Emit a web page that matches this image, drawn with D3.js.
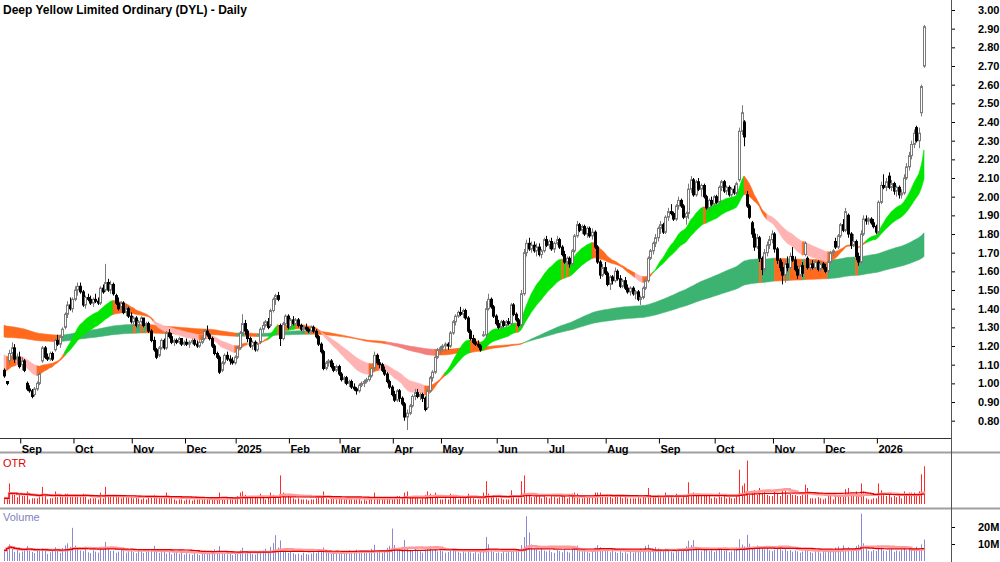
<!DOCTYPE html>
<html>
<head>
<meta charset="utf-8">
<script src="https://cdn.jsdelivr.net/npm/d3@7"></script>
<style>
  body { margin: 0; background: #fff; }
  svg { display: block; }
  text { font-family: "Liberation Sans", Arial, sans-serif; }
</style>
</head>
<body>
<svg id="chart" width="1000" height="562"></svg>
<script>
// daily prices in cents, 22 Aug 2024 .. 27 Jan 2026
const opens = [
  107,101,112,116,119,113,114,110,112,100, 97,96,94,97,100,112,119,114,113,116,
  118,123,121,125,130,137,142,140,145,150, 152,149,142,146,145,143,145,144,143,151,
  150,154,150,153,147,143,141,143,138,140, 136,133,135,131,133,135,131,132,128,123,
  118,115,119,123,119,127,125,122,123,122, 124,121,122,121,122,123,121,120,122,124,
  128,126,124,120,116,114,107,111,115,113, 112,111,114,119,127,132,128,124,120,122,
  118,122,129,131,133,131,139,145,147,131, 124,132,136,130,134,132,134,131,129,130,
  129,128,130,128,125,121,117,108,111,112, 109,107,109,105,102,103,100,101,98,97,
  96,99,100,101,102,104,108,115,111,110, 107,105,101,98,94,91,96,92,89,82,
  84,88,93,95,93,94,92,87,96,103, 106,114,118,119,120,121,120,127,133,136,
  138,137,139,135,128,124,122,121,120,126, 126,140,145,141,136,132,130,133,131,133,
  132,142,137,134,131,148,170,175,172,174, 171,173,169,171,177,174,176,172,175,177,
  173,169,165,167,164,171,179,185,182,184, 180,183,179,181,173,165,158,162,159,153,
  157,155,160,156,152,155,151,149,151,148, 149,145,146,151,155,167,171,175,178,183,
  185,181,189,192,191,188,195,198,195,189, 191,204,209,201,208,204,206,200,194,198,
  196,200,197,205,208,203,205,201,204,202, 209,235,240,201,195,186,180,173,178,167,
  161,170,174,177,180,172,166,162,158,164, 162,168,166,161,158,163,169,167,162,164,
  162,165,161,164,162,160,165,170,176,173, 179,185,182,190,180,174,176,168,165,180,
  188,187,188,186,184,181,197,206,205,211, 205,207,203,205,201,202,210,216,222,228,
  237,230,245,270
];
const highs = [
  108,101,118,122,121,116,117,114,113,101, 99,97,98,101,106,120,120,116,117,117,
  124,126,126,130,138,144,146,146,152,154, 154,150,147,148,147,146,148,146,152,153,
  164,156,155,154,148,146,144,144,142,141, 138,136,136,134,136,135,133,133,129,125,
  119,120,124,124,128,129,127,124,124,125, 124,123,124,123,124,124,123,123,125,129,
  131,127,125,121,117,115,112,116,117,115, 114,115,120,128,137,134,129,125,123,123,
  122,130,133,134,135,140,146,148,149,132, 133,137,137,135,136,135,135,132,131,132,
  130,131,131,129,126,122,118,112,113,113, 111,110,110,106,104,104,102,102,100,98,
  100,101,102,103,105,109,117,116,113,111, 109,106,102,99,96,97,97,93,90,86,
  89,94,97,97,95,95,93,97,104,107, 115,119,120,121,122,122,128,134,137,139,
  141,140,140,136,129,126,124,123,121,128, 144,148,146,142,137,134,134,134,134,135,
  143,143,138,135,150,172,177,178,176,176, 175,175,172,178,179,177,178,176,179,178,
  174,171,168,168,172,180,187,186,185,185, 184,184,183,182,174,166,164,165,160,158,
  158,162,161,158,156,157,153,152,152,150, 150,147,152,156,168,172,176,180,184,187,
  186,190,194,196,192,196,200,199,196,192, 207,211,210,209,210,207,207,201,199,200,
  201,201,206,209,209,206,206,205,206,208, 237,249,241,203,196,187,183,180,179,168,
  172,176,179,182,181,173,167,165,166,168, 170,173,168,163,164,165,176,168,165,166,
  166,166,165,165,164,166,171,172,178,180, 186,188,194,191,181,180,177,170,182,190,
  190,189,189,188,185,198,208,212,210,213, 209,208,206,206,204,212,218,224,230,236,
  238,237,260,292
];
const lows = [
  103,99,110,113,111,110,108,107,106,96, 95,92,93,96,99,111,113,112,112,112,
  117,120,119,124,129,135,139,138,144,147, 148,141,140,144,142,141,143,142,142,148,
  149,149,148,147,142,139,139,137,136,135, 132,131,130,129,132,130,129,127,122,117,
  113,114,118,118,118,124,121,120,121,121, 120,120,120,119,121,120,119,119,121,123,
  125,123,119,115,113,105,106,110,112,110, 110,110,113,118,126,126,122,119,118,117,
  117,121,127,130,129,130,138,142,144,120, 123,131,129,129,131,131,130,128,127,128,
  127,127,127,124,120,116,107,107,109,108, 106,106,104,101,100,99,98,97,96,94,
  95,98,98,100,101,103,107,110,108,106, 104,100,97,93,90,90,90,88,80,75,
  83,87,91,92,91,90,85,86,95,101, 105,113,116,117,117,118,119,126,131,135,
  136,135,134,127,123,121,120,119,117,125, 124,139,140,135,131,129,129,130,130,131,
  131,136,133,130,130,147,168,171,170,170, 168,168,167,170,173,172,171,170,174,172,
  168,164,163,162,163,170,178,181,180,179, 178,178,177,172,164,156,157,158,152,150,
  153,154,155,151,151,150,148,147,147,145, 144,142,145,150,154,166,169,173,176,180,
  180,180,187,190,187,187,193,194,188,185, 188,202,200,200,203,200,199,193,192,195,
  195,196,196,203,202,201,200,200,201,201, 208,233,227,194,188,178,171,172,165,158,
  160,168,172,175,170,164,160,153,154,160, 161,165,160,156,157,157,168,161,160,161,
  161,160,160,161,159,159,164,168,172,172, 178,181,181,178,172,173,166,163,164,179,
  185,185,185,183,180,180,196,204,203,204, 203,201,200,199,199,201,209,214,220,226,
  229,226,243,269
];
const closes = [
  104,100,116,119,113,114,109,112,107,97, 96,93,97,100,105,119,114,113,116,113,
  123,121,125,129,137,142,140,145,150,152, 149,142,146,145,143,145,144,143,151,149,
  154,150,153,148,143,140,143,138,140,136, 133,135,131,133,135,131,132,128,123,118,
  114,119,123,119,127,125,122,123,122,124, 121,122,121,122,123,121,120,122,124,128,
  126,124,120,116,114,106,111,115,113,112, 111,114,119,127,132,128,124,120,122,118,
  121,129,131,133,130,139,145,147,145,124, 132,136,130,134,132,134,131,129,130,129,
  128,130,128,125,121,117,108,111,112,109, 107,109,105,102,103,100,101,98,97,96,
  99,100,101,102,104,108,115,111,110,107, 105,101,98,94,91,96,92,89,82,84,
  88,93,95,93,94,92,86,96,103,106, 114,118,119,120,121,120,127,133,136,138,
  137,139,135,128,124,122,121,120,118,126, 140,145,141,136,132,130,133,131,133,132,
  142,137,134,131,148,170,175,172,174,171, 173,169,171,177,174,176,172,175,177,173,
  169,165,167,164,171,179,185,182,184,180, 183,179,181,173,165,158,162,159,153,157,
  155,160,156,152,155,151,149,151,148,149, 145,146,151,155,167,171,175,178,183,185,
  181,189,192,191,188,195,198,195,189,191, 204,209,201,208,204,206,200,194,198,196,
  200,197,205,208,203,205,201,204,202,207, 235,245,232,195,189,180,173,178,167,161,
  170,174,177,180,172,166,162,158,164,162, 168,166,161,158,163,159,175,162,164,162,
  165,161,164,162,160,165,170,171,173,179, 185,182,192,180,174,176,168,165,180,188,
  187,188,186,184,181,197,206,205,208,205, 207,203,205,201,202,210,216,222,228,234,
  230,234,259,291
];
// daily volume, millions of shares
const volumes = [
  6.2,8.5,9.8,7.1,5.4,6.8,4.9,5.6,7.2,8.8,6.1,5.3,4.7,6.9,5.8,7.5,6.4,4.2,5.1,6.6,8.1,5.9,4.8,7.7,9.2,10.4,8.3,19.5,
  9.1,7.6,6.2,5.8,8.4,5.1,4.6,6.3,5.5,4.9,7.8,6.7,11.2,7.4,5.9,6.1,4.8,5.5,7.3,6.2,4.9,5.7,6.8,5.2,
  4.6,5.9,6.4,4.8,5.3,7.1,6.6,8.9,5.8,4.7,5.2,6.1,4.4,5.6,3.9,4.8,5.5,4.3,5.1,3.8,4.6,
  4.2,3.7,5.3,4.1,3.5,4.8,6.2,5.1,4.4,5.6,6.8,4.9,8.7,5.2,4.3,3.9,4.5,3.6,4.1,4.7,
  6.3,7.8,5.4,4.6,5.9,4.2,3.8,4.9,5.6,6.1,7.3,5.2,8.4,10.5,15.2,7.9,12.1,6.4,5.3,4.8,
  5.5,4.6,3.9,4.3,3.6,4.9,4.1,3.8,4.4,5.2,4.7,6.6,5.3,7.9,4.8,5.6,4.2,4.9,5.8,4.6,5.1,
  4.4,5.9,6.3,4.8,5.2,6.7,4.9,5.4,6.1,4.6,5.8,7.2,9.6,6.3,5.5,4.9,6.2,7.8,8.9,19.1,9.4,
  7.6,6.8,8.3,12.4,7.1,6.5,5.9,7.4,6.2,5.7,4.9,6.8,7.9,8.8,6.4,7.1,5.6,6.2,
  5.8,4.9,5.3,6.7,7.2,6.1,5.4,4.8,5.6,4.9,6.3,5.1,4.6,5.2,4.4,5.8,6.9,14.2,9.8,6.6,5.4,4.7,
  5.1,4.6,5.5,4.9,6.2,5.3,7.1,5.8,5.2,9.4,14.1,26.3,16.8,9.7,7.2,6.8,5.9,7.4,6.1,5.6,6.3,
  5.2,4.8,6.4,5.9,5.1,6.7,5.5,4.9,7.2,8.4,9.1,6.3,5.7,6.2,5.4,4.8,5.6,7.8,9.3,8.1,6.7,5.9,6.4,
  5.1,6.3,5.4,4.7,5.8,4.9,5.2,4.4,5.6,4.8,5.3,6.1,7.2,6.4,8.8,9.6,7.1,6.3,8.2,7.4,6.6,
  5.9,7.3,6.4,5.6,4.9,6.8,7.1,5.8,6.2,8.6,11.9,9.4,12.3,7.8,6.5,5.7,6.9,7.6,5.8,6.3,5.4,6.1,
  7.4,6.6,5.9,6.2,5.1,5.7,6.4,7.9,12.8,9.7,8.6,15.4,10.2,8.3,7.9,9.1,7.4,8.2,6.9,7.6,6.3,5.8,
  6.6,7.2,8.4,6.1,7.3,5.9,6.5,5.4,6.2,5.7,4.9,5.6,7.8,6.1,5.3,4.8,5.5,6.2,4.9,5.8,5.1,
  6.4,7.1,5.8,7.9,8.6,6.7,9.2,7.4,8.1,6.5,7.3,8.8,9.6,27.8,10.4,7.2,6.1,5.7,6.4,5.9,
  7.6,8.3,6.2,5.8,6.6,7.1,5.4,6.2,5.7,6.8,7.4,6.3,8.2,7.1,6.6,8.4,7.7,9.8,12.6
];

const monthIdx = [7,28,51,72,92,113,133,154,173,195,215,238,259,281,304,324,345];
const monthLabels = ["Sep","Oct","Nov","Dec","2025","Feb","Mar","Apr","May","Jun","Jul","Aug","Sep","Oct","Nov","Dec","2026"];
const priceTicks = [0.8,0.9,1.0,1.1,1.2,1.3,1.4,1.5,1.6,1.7,1.8,1.9,2.0,2.1,2.2,2.3,2.4,2.5,2.6,2.7,2.8,2.9,3.0];
const volumeTicks = [10, 20];

// moving-average ribbons, with the values they carried into the first day
const shortPeriods = [18,21,24,27,30,34];
const shortSeed = [1.08,1.095,1.11,1.125,1.14,1.16];
const longPeriods = [150,170,190,210,230,250];
const longSeed = [1.315,1.30,1.285,1.27,1.26,1.25];

const n = Math.min(opens.length, highs.length, lows.length, closes.length);
const bars = d3.range(n).map(i => ({
  i, o: opens[i]/100, h: highs[i]/100, l: lows[i]/100, c: closes[i]/100, v: volumes[i] || 0
}));

const svg = d3.select('#chart');
const x = d3.scaleLinear().domain([0, 363]).range([4, 924]);
const y = d3.scaleLinear().domain([0.8, 3.0]).range([420.7, 10]);
const yO = d3.scaleLinear().domain([0, 0.42]).range([504, 456]);
const yV = d3.scaleLinear().domain([0, 30]).range([561, 510]);

function emaSeries(period, seed){
  const k = 2/(period+1);
  let e = seed;
  return bars.map(b => (e = e + k*(b.c - e)));
}
// green: all averages rising and stacked fast-over-slow; red/pink: all falling and stacked
// slow-over-fast; orange otherwise
function ribbon(periods, seeds){
  const lines = periods.map((p, j) => emaSeries(p, seeds[j]));
  return bars.map((b, i) => {
    const vals = lines.map(l => l[i]);
    const prev = lines.map((l, j) => i ? l[i-1] : seeds[j]);
    const up = vals.every((v, j) => v > prev[j]) && vals.every((v, j) => !j || vals[j-1] > v);
    const down = vals.every((v, j) => v < prev[j]) && vals.every((v, j) => !j || vals[j-1] < v);
    return {i, lo: d3.min(vals), hi: d3.max(vals), state: up ? 'up' : (down ? 'down' : 'mix')};
  });
}
const shortBand = ribbon(shortPeriods, shortSeed);
const longBand = ribbon(longPeriods, longSeed);
const shortColor = {up: '#00e600', down: '#ffb3b3', mix: '#ff6a1f'};
const longColor = {up: '#3cb371', down: '#f27e7e', mix: '#ff6a1f'};

const bandArea = d3.area().x(d => x(d.i)).y0(d => y(d.lo)).y1(d => y(d.hi));

// group days of the same colour into runs, one path each
function runs(band){
  const out = [];
  for(let i = 1; i < band.length; i++){
    const s = band[i].state;
    const last = out[out.length - 1];
    if(last && last.state === s) last.pts.push(band[i]);
    else out.push({state: s, pts: [band[i-1], band[i]]});
  }
  return out;
}
function drawBand(band, colors){
  svg.append('g')
    .selectAll('path')
    .data(runs(band))
    .join('path')
    .attr('d', r => bandArea(r.pts))
    .attr('fill', r => colors[r.state])
    .attr('stroke', r => colors[r.state])
    .attr('stroke-width', 0.6)
    .attr('stroke-linejoin', 'round');
}
drawBand(longBand, longColor);
drawBand(shortBand, shortColor);

// candles
const cg = svg.append('g');
const px = d => Math.round(x(d.i));
cg.selectAll('.wick').data(bars).join('line')
  .attr('class', 'wick')
  .attr('x1', d => px(d) + 0.5).attr('x2', d => px(d) + 0.5)
  .attr('y1', d => y(d.h)).attr('y2', d => y(d.l))
  .attr('stroke', d => d.c >= d.o ? '#7a7a7a' : '#000')
  .attr('stroke-width', 1);
cg.selectAll('.body').data(bars).join('rect')
  .attr('class', 'body')
  .attr('x', d => px(d) - 0.5)
  .attr('width', 2)
  .attr('y', d => y(Math.max(d.o, d.c)))
  .attr('height', d => Math.max(1, Math.abs(y(d.o) - y(d.c))))
  .attr('fill', d => d.c >= d.o ? '#fff' : '#000')
  .attr('stroke', d => d.c >= d.o ? '#7a7a7a' : '#000')
  .attr('stroke-width', 1);

// true range and volume panels
const tr = bars.map((b, i) => i === 0 ? b.h - b.l : Math.max(b.h, bars[i-1].c) - Math.min(b.l, bars[i-1].c));
function sma(arr, p){
  return arr.map((v, i) => d3.mean(arr.slice(Math.max(0, i-p+1), i+1)));
}

svg.append('g').selectAll('line').data(bars).join('line')
  .attr('x1', d => px(d) + 0.5).attr('x2', d => px(d) + 0.5)
  .attr('y1', yO(0)).attr('y2', d => yO(tr[d.i]))
  .attr('stroke', '#ff2a2a').attr('stroke-width', 1);

const otrLine = d3.line().x((d, i) => x(i)).curve(d3.curveStepAfter);
svg.append('path').datum(sma(tr, 20))
  .attr('d', otrLine.y(d => yO(d)))
  .attr('fill', 'none').attr('stroke', '#ff9a9a').attr('stroke-width', 2.5);
svg.append('path').datum(sma(tr, 50))
  .attr('d', otrLine.y(d => yO(d)))
  .attr('fill', 'none').attr('stroke', '#e00000').attr('stroke-width', 1.2);

const vols = bars.map(b => b.v);
svg.append('g').selectAll('line').data(bars).join('line')
  .attr('x1', d => px(d) + 0.5).attr('x2', d => px(d) + 0.5)
  .attr('y1', yV(0)).attr('y2', d => yV(d.v))
  .attr('stroke', '#8a8ad0').attr('stroke-width', 1);
const volLine = d3.line().x((d, i) => x(i)).curve(d3.curveStepAfter);
svg.append('path').datum(sma(vols, 20))
  .attr('d', volLine.y(d => yV(d)))
  .attr('fill', 'none').attr('stroke', '#ff9a9a').attr('stroke-width', 2.5);
svg.append('path').datum(sma(vols, 50))
  .attr('d', volLine.y(d => yV(d)))
  .attr('fill', 'none').attr('stroke', '#e00000').attr('stroke-width', 1.2);

// frame
svg.append('line').attr('x1', 0).attr('x2', 952).attr('y1', 438.5).attr('y2', 438.5).attr('stroke', '#333');
[452.5, 508.5].forEach(yy => {
  svg.append('line').attr('x1', 0).attr('x2', 1000).attr('y1', yy).attr('y2', yy)
    .attr('stroke', '#a0a0a0').attr('stroke-width', 2);
});
svg.append('line').attr('x1', 951.5).attr('x2', 951.5).attr('y1', 0).attr('y2', 562).attr('stroke', '#555');

// axes
const yAxis = svg.append('g').attr('transform', 'translate(952,0)')
  .call(d3.axisRight(y).tickValues(priceTicks).tickSize(3).tickPadding(23).tickFormat(d3.format('.2f')));
yAxis.select('.domain').remove();
yAxis.selectAll('text').attr('font-size', 11).attr('font-weight', 'bold').attr('fill', '#000')
  .style('font-family', '"Liberation Sans", Arial, sans-serif');

const vAxis = svg.append('g').attr('transform', 'translate(952,0)')
  .call(d3.axisRight(yV).tickValues(volumeTicks).tickSize(3).tickPadding(23).tickFormat(d => d + 'M'));
vAxis.select('.domain').remove();
vAxis.selectAll('text').attr('font-size', 11).attr('font-weight', 'bold').attr('fill', '#000')
  .style('font-family', '"Liberation Sans", Arial, sans-serif');

const xAxis = svg.append('g').attr('transform', 'translate(0,438.5)')
  .call(d3.axisBottom(d3.scaleLinear().domain([0, 363]).range([2.5, 922.5]))
    .tickValues(monthIdx).tickSize(5).tickPadding(2)
    .tickFormat((d, k) => monthLabels[k]));
xAxis.select('.domain').remove();
xAxis.selectAll('text').attr('text-anchor', 'start').attr('dx', 1)
  .attr('font-size', 11).attr('font-weight', 'bold').attr('fill', '#000')
  .style('font-family', '"Liberation Sans", Arial, sans-serif');

// labels
svg.append('text').attr('x', 3).attr('y', 14)
  .attr('font-size', 12).attr('font-weight', 'bold')
  .text('Deep Yellow Limited Ordinary (DYL) - Daily');
svg.append('text').attr('x', 3).attr('y', 467)
  .attr('font-size', 11).attr('fill', '#e00000')
  .text('OTR');
svg.append('text').attr('x', 3).attr('y', 521)
  .attr('font-size', 11).attr('fill', '#7f7fc0')
  .text('Volume');
</script>
</body>
</html>
